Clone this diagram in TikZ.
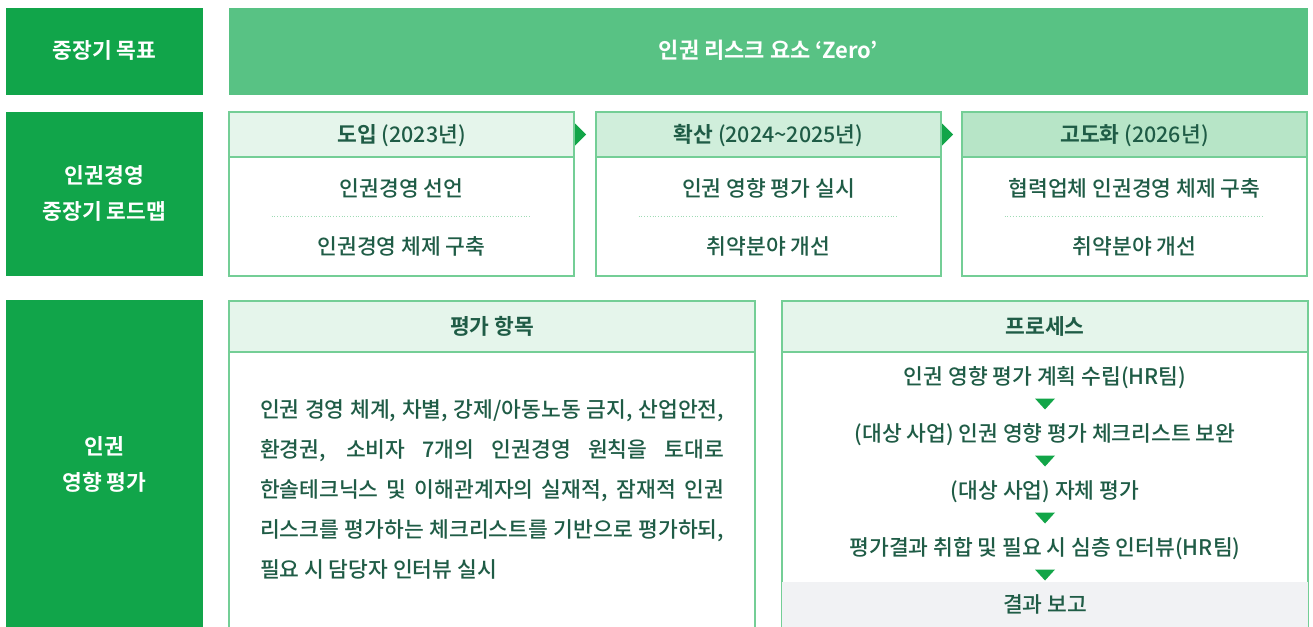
\documentclass[tikz,border=0pt]{standalone}
\usepackage{fontspec}
\setmainfont{Noto Sans CJK KR}[UprightFont={* Medium},BoldFont={* Bold}]
\usetikzlibrary{calc}
\definecolor{lgreen}{HTML}{11A54A}
\definecolor{topgreen}{HTML}{58C284}
\definecolor{bord}{HTML}{74CE96}
\definecolor{hdrA}{HTML}{E5F5EB}
\definecolor{hdrB}{HTML}{D0EEDB}
\definecolor{hdrC}{HTML}{B7E5C7}
\definecolor{textc}{HTML}{1F5C46}
\definecolor{arrowc}{HTML}{12A548}
\definecolor{grayc}{HTML}{F1F2F4}
\definecolor{dotc}{HTML}{9FDBB5}
\begin{document}
\begin{tikzpicture}[x=1pt,y=-1pt,
  lbl/.style={fill=lgreen,text=white,font=\fontsize{21.5}{36}\selectfont\bfseries,align=center,inner sep=0,minimum width=197pt,text depth=1pt},
  hdr/.style={draw=bord,line width=1.2pt,text=textc,font=\fontsize{21.5}{24}\selectfont,inner sep=0,text height=16pt,text depth=1pt},
  bodybox/.style={draw=bord,line width=1.2pt,fill=white,inner sep=0},
  txt/.style={text=textc,font=\fontsize{21.5}{24}\selectfont,inner sep=0,text height=16pt,text depth=1pt},
  sep/.style={dotc,dotted,line width=0.8pt},
  tri/.style={fill=arrowc}]
\useasboundingbox (0,0) rectangle (1313,626);
% left labels
\node[lbl,minimum height=87pt,text height=16pt] (g1) at (104.5,51.5) {중장기 목표};
\node[lbl,minimum height=164pt,text height=52pt] (g2) at (104.5,194) {인권경영\\중장기 로드맵};
\node[lbl,minimum height=330pt,text height=52pt] (g3) at (104.5,465) {인권\\영향 평가};
% goal bar
\node[fill=topgreen,text=white,font=\fontsize{22}{24}\selectfont\bfseries,inner sep=0,minimum width=1079pt,minimum height=87pt,text height=16pt,text depth=1pt] (goal) at (768.5,51.5) {인권 리스크 요소 ‘Zero’};
% roadmap boxes
\node[bodybox,minimum width=345pt,minimum height=119pt] (bA) at (401.5,216.5) {};
\node[bodybox,minimum width=345pt,minimum height=119pt] (bB) at (768.5,216.5) {};
\node[bodybox,minimum width=345pt,minimum height=119pt] (bC) at (1134.5,216.5) {};
\node[hdr,fill=hdrA,minimum width=345pt,minimum height=45pt] (hA) at (401.5,134.5) {\textbf{도입} (2023년)};
\node[hdr,fill=hdrB,minimum width=345pt,minimum height=45pt] (hB) at (768.5,134.5) {\textbf{확산} (2024\textasciitilde2025년)};
\node[hdr,fill=hdrC,minimum width=345pt,minimum height=45pt] (hC) at (1134.5,134.5) {\textbf{고도화} (2026년)};
\node[txt] (a1) at (401.5,189) {인권경영 선언};
\node[txt] (a2) at (401.5,247) {인권경영 체제 구축};
\node[txt] (b1) at (768.5,189) {인권 영향 평가 실시};
\node[txt] (b2) at (768.5,247) {취약분야 개선};
\node[txt] (c1) at (1134.5,189) {협력업체 인권경영 체제 구축};
\node[txt] (c2) at (1134.5,247) {취약분야 개선};
\draw[sep] ($(bA.center)+(-130,0)$) -- ($(bA.center)+(130,0)$);
\draw[sep] ($(bB.center)+(-130,0)$) -- ($(bB.center)+(130,0)$);
\draw[sep] ($(bC.center)+(-130,0)$) -- ($(bC.center)+(130,0)$);
\fill[tri] ($(hA.east)+(0.6,-11)$) -- ($(hA.east)+(11.5,0)$) -- ($(hA.east)+(0.6,11)$) -- cycle;
\fill[tri] ($(hB.east)+(0.6,-11)$) -- ($(hB.east)+(11.5,0)$) -- ($(hB.east)+(0.6,11)$) -- cycle;
% evaluation items panel
\node[bodybox,minimum width=526pt,minimum height=280pt,anchor=north] (pb1) at (492,352) {};
\node[hdr,fill=hdrA,minimum width=526pt,minimum height=51pt] (ph1) at (492,326.5) {\textbf{평가 항목}};
\node[text=textc,inner sep=0,text height=176pt,text depth=1pt,font=\fontsize{21.5}{40}\selectfont,align=left] (items) at (492,490) {%
\makebox[464pt][s]{인권 경영 체계, 차별, 강제/아동노동 금지, 산업안전,}\\
\makebox[464pt][s]{환경권, 소비자 7개의 인권경영 원칙을 토대로}\\
\makebox[464pt][s]{한솔테크닉스 및 이해관계자의 실재적, 잠재적 인권}\\
\makebox[464pt][s]{리스크를 평가하는 체크리스트를 기반으로 평가하되,}\\
\makebox[464pt][l]{필요 시 담당자 인터뷰 실시}};
% process panel
\node[bodybox,minimum width=526pt,minimum height=280pt,anchor=north] (pb2) at (1045,352) {};
\fill[grayc] ($(pb2.north west)+(0.6,230)$) rectangle ($(pb2.south east)+(-0.6,0)$);
\node[hdr,fill=hdrA,minimum width=526pt,minimum height=51pt] (ph2) at (1045,326.5) {\textbf{프로세스}};
\node[txt] (p1) at (1045,377) {인권 영향 평가 계획 수립(HR팀)};
\node[txt] (p2) at (1045,434) {(대상 사업) 인권 영향 평가 체크리스트 보완};
\node[txt] (p3) at (1045,491) {(대상 사업) 자체 평가};
\node[txt] (p4) at (1045,548) {평가결과 취합 및 필요 시 심층 인터뷰(HR팀)};
\node[txt] (p5) at (1045,605) {결과 보고};
\foreach \u/\v in {p1/p2,p2/p3,p3/p4,p4/p5}{
  \fill[tri] ($(\u)!0.5!(\v)+(-10,-7)$) -- ++(20,0) -- ++(-10,11) -- cycle;
}
\end{tikzpicture}
\end{document}
